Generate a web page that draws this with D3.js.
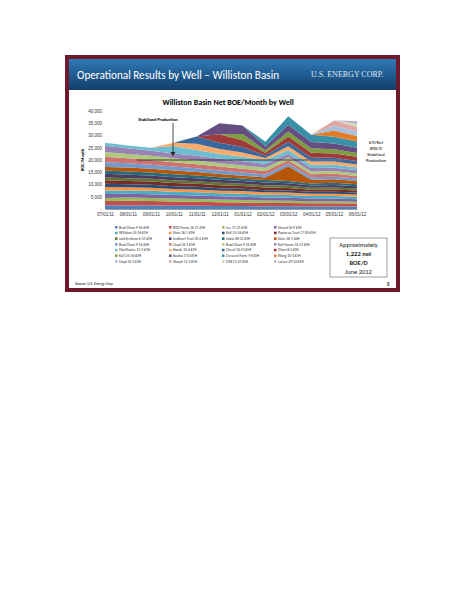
<!DOCTYPE html>
<html><head><meta charset="utf-8">
<script src="https://cdn.jsdelivr.net/npm/d3@7"></script>
<style>body{margin:0;background:#fff;font-family:Calibri,"Open Sans",sans-serif}</style>
</head><body><svg id="c" width="464" height="600"></svg>
<script>
// months on the x axis
var months = ['07/01/11','08/01/11','09/01/11','10/01/11','11/01/11','12/01/11','01/01/12','02/01/12','03/01/12','04/01/12','05/01/12','06/01/12'];
var yTicks = [0,5000,10000,15000,20000,25000,30000,35000,40000];

// wells, bottom of the stack first
var wells = ['Brad Olson 9-16 #1H','BOD Farms 16-21 #1H','Lee 11-21 #1H','Strand 16-9 #1H','Williston 25-36 #1H','State 36-1 #1H','Kalil 25-36 #1H','Papineau Trust 17-20 #1H','Jack Erickson 6-31 #1H','Sedfoort Trust 30-4 #1H','Sukut 28-33 #1H','State 36-1 #2H','Brad Olson 9-16 #2H','Lloyd 34-3 #1H','Brad Olson 9-16 #3H','Kalil Farms 14-23 #1H','MacMaster 11-2 #1H','Hovde 10-4 #1H','Cheryl 14-23 #1H','Olson 8-5 #1H','Kalil 25-36 #2H','Koufax 3-10 #1H','Crescent Farm 7-6 #1H','Wang 10-3 #1H','Lloyd 34-3 #2H','Skorpil 11-2 #1H','CDK 15-22 #1H','Larsen 29-32 #1H'];

var boe = [
  [1500,1400,1400,1300,1300,1200,1200,1100,1100,1000,1000,1000],
  [1800,2000,1900,1800,1700,1600,1500,1400,1400,1300,1300,1200],
  [1200,1300,1200,1200,1100,1100,1000,1000,900,900,900,800],
  [1600,1500,1500,1400,1400,1300,1300,1200,1200,1100,1100,1000],
  [1500,1400,1400,1300,1300,1200,1200,1100,1100,1000,1000,1000],
  [1400,1300,1300,1200,1200,1100,1100,1000,1000,900,900,900],
  [1300,1200,1200,1100,1100,1000,1000,900,900,800,800,800],
  [1400,1300,1300,1300,1200,1200,1100,1100,1000,900,1000,900],
  [1200,1200,1100,1100,1000,1000,900,900,900,800,800,800],
  [1500,1400,1400,1300,1300,1200,1100,1100,1000,900,1000,900],
  [1300,1300,1200,1200,1100,1100,1000,1000,900,800,900,800],
  [1400,1600,1500,1500,1400,1300,1200,1100,6000,1500,1400,1300],
  [2000,1800,1700,1600,1500,1400,1300,1200,1200,1100,1100,1000],
  [2200,2000,1900,1800,1700,1600,1500,1400,1300,1200,1200,1100],
  [2000,1800,1700,1600,1500,1400,1400,1300,1200,1100,1100,1000],
  [2500,2300,2100,2000,1900,1800,1700,1600,1500,1400,1300,1300],
  [1200,1100,1200,3000,2400,2000,1800,1600,1500,1400,1300,1200],
  [0,0,0,1300,2500,2000,1800,800,1500,1300,1300,1200],
  [0,0,0,0,3000,2500,2200,1000,1800,1600,1500,1400],
  [0,0,0,0,0,3500,2800,1200,2200,2000,1800,1700],
  [0,0,0,0,0,0,2500,1000,2000,1800,1700,1600],
  [0,0,0,0,0,4500,3500,1500,2800,2500,2300,2100],
  [0,0,0,0,0,0,0,2000,3500,3000,2800,2600],
  [0,0,0,0,0,0,0,0,0,0,2500,2200],
  [0,0,0,0,0,0,0,0,0,0,2000,1800],
  [0,0,0,0,0,0,0,0,0,0,2100,1900],
  [0,0,0,0,0,0,0,0,0,0,0,1200],
  [0,0,0,0,0,0,0,0,0,0,0,1200]
];

var colors = ['#4F81BD','#C0504D','#9BBB59','#8064A2','#4BACC6','#F79646',
  '#2C4D75','#772C2A','#5F7530','#4D3B62','#276A7C','#B65708',
  '#729ACA','#CD7371','#AFC97A','#9983B5','#6FBDD1','#F9AB6B',
  '#3A679C','#9E3B38','#7E9D40','#664E83','#3891A7','#E27E2A',
  '#A7C0DE','#DFA7A6','#CDDDAC','#BEB1D0'];

var svg = d3.select('#c');

// slide frame
svg.append('rect').attr('x',67).attr('y',57).attr('width',331).attr('height',233).attr('fill','#fff').attr('stroke','#6e1a2c').attr('stroke-width',4);
var grad = svg.append('defs').append('linearGradient').attr('id','hdr').attr('x1',0).attr('y1',0).attr('x2',0).attr('y2',1);
grad.append('stop').attr('offset','0%').attr('stop-color','#2f7ab8');
grad.append('stop').attr('offset','100%').attr('stop-color','#123e6a');
svg.append('rect').attr('x',69).attr('y',59).attr('width',327).attr('height',31).attr('fill','url(#hdr)');
svg.append('text').attr('x',77).attr('y',79).attr('fill','#fff').attr('font-size',11.2).text('Operational Results by Well \u2013 Williston Basin');
svg.append('text').attr('x',311).attr('y',77).attr('fill','#dfe8f2').attr('font-size',8).attr('font-family','Liberation Serif,serif').text('U.S. ENERGY CORP.');

svg.append('text').attr('x',228).attr('y',105).attr('text-anchor','middle').attr('font-size',8).attr('font-weight','bold').text('Williston Basin Net BOE/Month by Well');

var x = d3.scalePoint().domain(months).range([105,357]);
var y = d3.scaleLinear().domain([0,40000]).range([209,111]);

var table = months.map(function(m,i){
  var row = {month:m};
  wells.forEach(function(w,k){ row[w] = boe[k][i]; });
  return row;
});
var series = d3.stack().keys(wells)(table);
var area = d3.area().x(function(d){return x(d.data.month);}).y0(function(d){return y(d[0]);}).y1(function(d){return y(d[1]);});
svg.append('g').selectAll('path').data(series).join('path')
  .attr('d',area).attr('fill',function(d,i){return colors[i];});

var ya = svg.append('g').attr('transform','translate(105,0)')
  .call(d3.axisLeft(y).tickValues(yTicks).tickSize(0).tickFormat(function(d){return d===0?'-':d3.format(',')(d);}));
ya.select('.domain').remove();
ya.selectAll('text').attr('font-size',4.5).attr('fill','#333');
var xa = svg.append('g').attr('transform','translate(0,209)').call(d3.axisBottom(x).tickSize(0));
xa.select('.domain').attr('stroke','#999');
xa.selectAll('text').attr('font-size',4.5).attr('fill','#333').attr('dy','0.9em');
svg.append('text').attr('transform','translate(84,160) rotate(-90)').attr('text-anchor','middle').attr('font-size',4.5).attr('font-weight','bold').text('BOE/Month');

// stabilized production annotation
svg.append('line').attr('x1',137).attr('x2',308).attr('y1',y(20000)).attr('y2',y(20000)).attr('stroke','#222').attr('stroke-width',0.8);
svg.append('line').attr('x1',308).attr('x2',342).attr('y1',y(20000)).attr('y2',y(20000)).attr('stroke','#888').attr('stroke-width',0.6);
svg.append('line').attr('x1',173).attr('x2',173).attr('y1',123).attr('y2',155).attr('stroke','#222').attr('stroke-width',0.8);
svg.append('path').attr('d','M170.5,152 L173,156 L175.5,152 Z').attr('fill','#222');
svg.append('text').attr('x',158).attr('y',121).attr('text-anchor','middle').attr('font-size',4.5).attr('font-weight','bold').text('Stabilized Production');
['670 Net','BOE/D','Stabilized','Production'].forEach(function(t,i){
  svg.append('text').attr('x',376).attr('y',144+i*6).attr('text-anchor','middle').attr('font-size',4.5).text(t);
});

// legend
var lg = svg.append('g').selectAll('g').data(wells).join('g')
  .attr('transform',function(d,i){return 'translate('+[118,172,225,277][i%4]+','+(228+Math.floor(i/4)*5.7)+')';});
lg.append('rect').attr('x',-3).attr('y',-2).attr('width',2.5).attr('height',2.5).attr('fill',function(d,i){return colors[i];});
lg.append('text').attr('x',1).attr('y',0.6).attr('font-size',3.6).attr('fill','#333').text(function(d){return d;});

svg.append('rect').attr('x',330).attr('y',238).attr('width',57).attr('height',39).attr('fill','#fff').attr('stroke','#777').attr('stroke-width',0.7);
[['Approximately',false],['1,222 net',true],['BOE/D',true],['June 2012',false]].forEach(function(t,i){
  svg.append('text').attr('x',358.5).attr('y',247+i*9).attr('text-anchor','middle').attr('font-size',6.5)
    .attr('font-weight',t[1]?'bold':'normal').attr('fill','#222').text(t[0]);
});
svg.append('text').attr('x',75).attr('y',285).attr('font-size',3.8).attr('font-style','italic').text('Source: U.S. Energy Corp.');
svg.append('text').attr('x',387).attr('y',286).attr('font-size',5).text('8');
</script></body></html>
